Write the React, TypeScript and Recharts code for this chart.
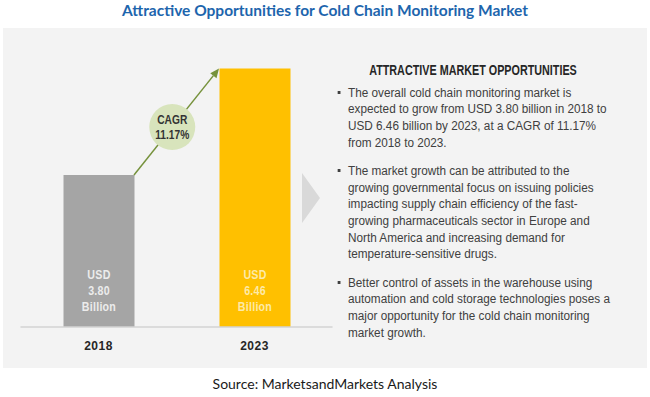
import { BarChart, Bar, XAxis, YAxis, LabelList, ReferenceLine, Cell } from 'recharts'

const years = ['2018', '2023']
const marketSize = [3.8, 6.46]
const valueLabels = ['3.80', '6.46']
const cagrLabel = '11.17%'

const bulletPoints = [
  [
    'The overall cold chain monitoring market is',
    'expected to grow from USD 3.80 billion in 2018 to',
    'USD 6.46 billion by 2023, at a CAGR of 11.17%',
    'from 2018 to 2023.',
  ],
  [
    'The market growth can be attributed to the',
    'growing governmental focus on issuing policies',
    'impacting supply chain efficiency of the fast-',
    'growing pharmaceuticals sector in Europe and',
    'North America and increasing demand for',
    'temperature-sensitive drugs.',
  ],
  [
    'Better control of assets in the warehouse using',
    'automation and cold storage technologies poses a',
    'major opportunity for the cold chain monitoring',
    'market growth.',
  ],
]

const barColors = ['#a5a5a5', '#ffc000']
const labelColors = ['#ececec', '#fdeaa8']
const BAR_SIZE = 71
const sans = '"Liberation Sans", Arial, sans-serif'

const data = years.map((year, i) => ({
  year,
  value: marketSize[i],
  label: valueLabels[i],
}))

// squeeze svg text horizontally around cx (no condensed face installed)
const squeeze = (cx: number, k: number) =>
  `translate(${cx} 0) scale(${k} 1) translate(${-cx} 0)`

const BarLabel = (props: any) => {
  const { x, y, width, height, index, value } = props
  const cx = Number(x) + Number(width) / 2
  const bottom = Number(y) + Number(height)
  return (
    <text
      textAnchor="middle"
      fill={labelColors[index] ?? '#eee'}
      fontFamily={sans}
      fontWeight="bold"
      fontSize={13}
      letterSpacing={0.3}
      transform={squeeze(cx, 0.82)}
    >
      <tspan x={cx} y={bottom - 48}>USD</tspan>
      <tspan x={cx} y={bottom - 32}>{value}</tspan>
      <tspan x={cx} y={bottom - 16}>Billion</tspan>
    </text>
  )
}

const YearTick = ({ x, y, payload }: any) => (
  <text
    x={x}
    y={y + 23}
    textAnchor="middle"
    fill="#262626"
    fontFamily={sans}
    fontWeight="bold"
    fontSize={12}
    letterSpacing={0.5}
  >
    {payload.value}
  </text>
)

// arrow from the top right corner of the first bar to the top left of the second
const CagrArrow = (props: any) => {
  const { x1, y1, x2, y2 } = props
  const sx = x1 + BAR_SIZE / 2
  const sy = y1
  const ex = x2 - BAR_SIZE / 2
  const ey = y2
  const a = Math.atan2(ey - sy, ex - sx)
  const head = 9
  const hw = 4
  const bx = ex - head * Math.cos(a)
  const by = ey - head * Math.sin(a)
  const pts = [
    [ex, ey],
    [bx + hw * Math.sin(a), by - hw * Math.cos(a)],
    [bx - hw * Math.sin(a), by + hw * Math.cos(a)],
  ]
  const cx = sx + (ex - sx) * 0.45
  const cy = sy + (ey - sy) * 0.45
  return (
    <g>
      <line x1={sx} y1={sy} x2={bx} y2={by} stroke="#76923c" strokeWidth={1.5} />
      <polygon points={pts.map((p) => p.join(',')).join(' ')} fill="#76923c" />
      <circle cx={cx} cy={cy} r={23} fill="#d8e4bc" />
      <text
        textAnchor="middle"
        fill="#333"
        fontFamily={sans}
        fontWeight="bold"
        fontSize={12}
        transform={squeeze(cx, 0.85)}
      >
        <tspan x={cx} y={cy - 3}>CAGR</tspan>
        <tspan x={cx} y={cy + 12}>{cagrLabel}</tspan>
      </text>
    </g>
  )
}

export default function App() {
  return (
    <div
      style={{
        position: 'absolute',
        left: 0,
        top: 0,
        width: 650,
        height: 397,
        background: '#fff',
        overflow: 'hidden',
      }}
    >
      <div
        style={{
          position: 'absolute',
          left: 0,
          top: 0,
          width: 650,
          textAlign: 'center',
          fontFamily: 'Lato, "Open Sans", sans-serif',
          fontWeight: 'bold',
          fontSize: 15.5,
          color: '#1d65ad',
          lineHeight: '21px',
        }}
      >
        Attractive Opportunities for Cold Chain Monitoring Market
      </div>

      <div
        style={{
          position: 'absolute',
          left: 3,
          top: 28,
          width: 644,
          height: 340,
          background: '#f3f3f3',
        }}
      />

      <div style={{ position: 'absolute', left: 0, top: 0 }}>
        <BarChart
          width={650}
          height={397}
          data={data}
          margin={{ top: 47, right: 317.5, bottom: 40, left: 20.5 }}
        >
          <XAxis
            dataKey="year"
            height={30}
            tickLine={false}
            tickSize={0}
            tickMargin={0}
            axisLine={{ stroke: '#d3d3d3', strokeWidth: 1.5 }}
            tick={<YearTick />}
          />
          <YAxis hide domain={[0, 7]} />
          <Bar dataKey="value" barSize={BAR_SIZE} isAnimationActive={false}>
            {data.map((d, i) => (
              <Cell key={d.year} fill={barColors[i]} />
            ))}
            <LabelList dataKey="label" content={<BarLabel />} />
          </Bar>
          <ReferenceLine
            segment={[
              { x: years[0], y: marketSize[0] },
              { x: years[1], y: marketSize[1] },
            ]}
            ifOverflow="visible"
            shape={<CagrArrow />}
          />
        </BarChart>
      </div>

      <svg
        width={650}
        height={397}
        style={{ position: 'absolute', left: 0, top: 0, pointerEvents: 'none' }}
      >
        <polygon points="302,173 320,198 302,223" fill="#d9d9d9" />
      </svg>

      <div
        style={{
          position: 'absolute',
          left: 323,
          top: 61,
          width: 300,
          textAlign: 'center',
          fontFamily: sans,
          fontWeight: 'bold',
          fontSize: 14,
          color: '#262626',
          lineHeight: '18px',
          transform: 'scaleX(0.77)',
          transformOrigin: '150px 0',
        }}
      >
        ATTRACTIVE MARKET OPPORTUNITIES
      </div>

      <div
        style={{
          position: 'absolute',
          left: 348,
          top: 84.5,
          fontFamily: sans,
          fontSize: 12.5,
          color: '#404040',
          lineHeight: '16.7px',
          whiteSpace: 'nowrap',
          transform: 'scaleX(0.94)',
          transformOrigin: '0 0',
        }}
      >
        {bulletPoints.map((lines, i) => (
          <div key={i} style={{ position: 'relative', marginTop: i === 0 ? 0 : 11.5 }}>
            <span
              style={{
                position: 'absolute',
                left: -11,
                top: 6.5,
                width: 3.2,
                height: 3,
                background: '#404040',
              }}
            />
            {lines.map((line) => (
              <div key={line}>{line}</div>
            ))}
          </div>
        ))}
      </div>

      <div
        style={{
          position: 'absolute',
          left: 0,
          top: 375,
          width: 650,
          textAlign: 'center',
          fontFamily: 'Lato, "Open Sans", sans-serif',
          fontSize: 14,
          color: '#1a1a1a',
          lineHeight: '18px',
        }}
      >
        Source: MarketsandMarkets Analysis
      </div>
    </div>
  )
}
